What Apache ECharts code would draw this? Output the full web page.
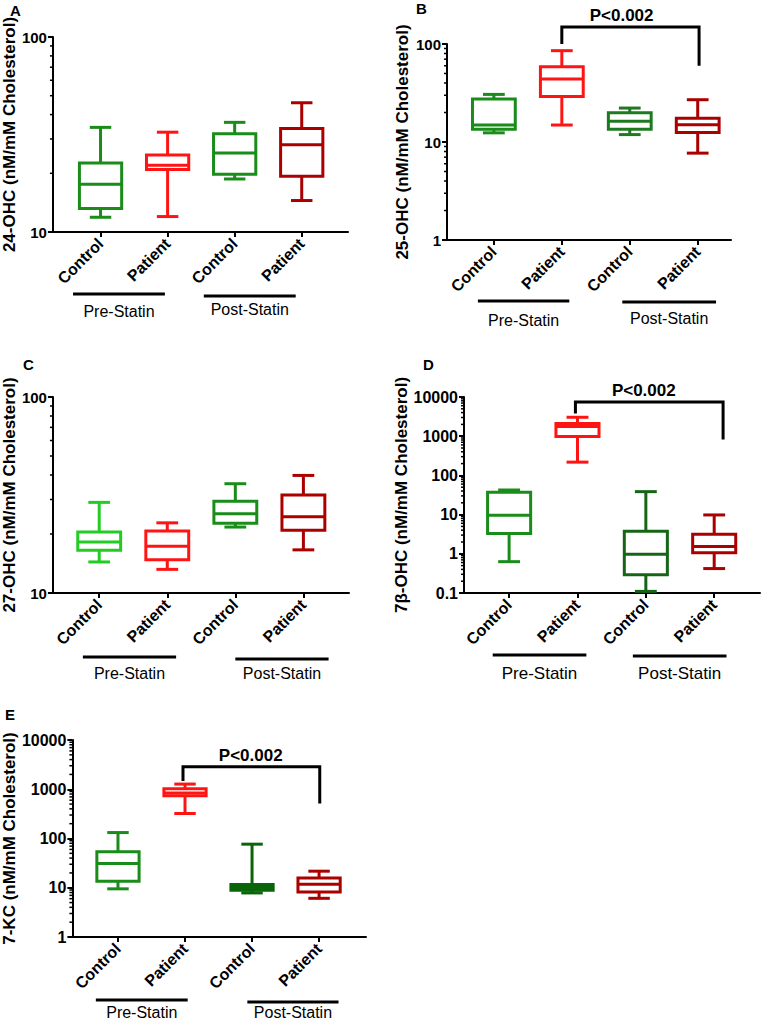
<!DOCTYPE html>
<html>
<head>
<meta charset="utf-8">
<script src="https://cdn.jsdelivr.net/npm/echarts@6/dist/echarts.min.js"></script>
<style>
html, body { margin: 0; padding: 0; background: #fff; }
#main { width: 762px; height: 1021px; }
</style>
</head>
<body>
<div id="main"></div>
<script>
var categories = ['Control', 'Patient', 'Control', 'Patient'];
var groupNames = ['Pre-Statin', 'Post-Statin'];
var pText = 'P<0.002';

// each box: [min, Q1, median, Q3, max]
var ohc24 = [[11.9, 13.2, 17.6, 22.6, 34.4], [12.0, 20.9, 22.0, 24.8, 32.5], [18.7, 19.8, 25.4, 31.9, 36.5], [14.5, 19.3, 28.0, 33.9, 46.0]];
var ohc25 = [[12.4, 13.5, 14.9, 27.4, 30.6], [14.9, 29.2, 43.9, 58.6, 85.5], [11.9, 13.5, 16.3, 19.9, 22.2], [7.7, 12.5, 15.0, 17.5, 27.0]];
var ohc27 = [[14.4, 16.5, 18.2, 20.5, 29.0], [13.2, 14.8, 17.3, 20.7, 22.8], [21.7, 22.7, 25.4, 29.4, 36.1], [16.6, 20.9, 24.5, 31.6, 39.8]];
var ohc7b = [[0.63, 3.3, 9.6, 37, 42.4], [218, 980, 1760, 2100, 3040], [0.11, 0.29, 0.98, 3.77, 38.5], [0.42, 1.06, 1.53, 3.16, 9.8]];
var kc7 = [[9.5, 13.6, 31, 53.6, 132], [322, 738, 836, 1024, 1274], [7.85, 8.9, 10.1, 11.6, 76.7], [6.1, 8.2, 11.8, 15.8, 21.7]];

// significance brackets: [from, yFrom, to, yTo, yTop, textAt]
var bracket25 = [1, 100, 3.02, 60, 149, 1.88];
var bracket7b = [0.97, 3770, 3.13, 822, 7470, 1.97];
var bracket7kc = [0.97, 1466, 3.01, 515, 2870, 1.98];

// minor ticks of the log axes
var minor10to100 = [20, 30, 40, 50, 60, 70, 80, 90];
var minor1to100 = [2, 3, 4, 5, 6, 7, 8, 9, 20, 30, 40, 50, 60, 70, 80, 90];
var minor01to10000 = [0.2, 0.3, 0.4, 0.5, 0.6, 0.7, 0.8, 0.9, 2, 3, 4, 5, 6, 7, 8, 9,
    20, 30, 40, 50, 60, 70, 80, 90, 200, 300, 400, 500, 600, 700, 800, 900,
    2000, 3000, 4000, 5000, 6000, 7000, 8000, 9000];
var minor1to10000 = [2, 3, 4, 5, 6, 7, 8, 9, 20, 30, 40, 50, 60, 70, 80, 90,
    200, 300, 400, 500, 600, 700, 800, 900, 2000, 3000, 4000, 5000, 6000, 7000, 8000, 9000];

var GREEN = '#1a8c1a', RED = '#ff1414', DARKRED = '#aa0000';
var FONT = '"Liberation Sans", Arial, sans-serif';

var panels = [
    { stats: ohc24, colors: [GREEN, RED, GREEN, DARKRED], yName: '24-OHC (nM/mM Cholesterol)',
      yMin: 10, yMax: 100, minor: minor10to100, bracket: null,
      grid: { left: 50, top: 37, width: 298, height: 195 }, xRange: [-0.71, 3.69],
      nameGap: 28, tickFont: 15, catFont: 16, groupFont: 16,
      groups: [[-0.41, 0.96], [1.54, 2.91]], lineOff: [62, 64], textOff: [79, 77] },
    { stats: ohc25, colors: [GREEN, RED, '#1e7a1e', DARKRED], yName: '25-OHC (nM/mM Cholesterol)',
      yMin: 1, yMax: 100, minor: minor1to100, bracket: bracket25,
      grid: { left: 447, top: 44, width: 284, height: 196 }, xRange: [-0.69, 3.49],
      nameGap: 36, tickFont: 15, catFont: 16, groupFont: 16,
      groups: [[-0.235, 1.11], [1.89, 3.27]], lineOff: [61, 62], textOff: [80, 78] },
    { stats: ohc27, colors: ['#22cc22', RED, GREEN, DARKRED], yName: '27-OHC (nM/mM Cholesterol)',
      yMin: 10, yMax: 100, minor: minor10to100, bracket: null,
      grid: { left: 52, top: 397, width: 297, height: 196 }, xRange: [-0.68, 3.67],
      nameGap: 34, tickFont: 15, catFont: 16, groupFont: 16,
      groups: [[-0.24, 1.13], [2.0, 3.37]], lineOff: [64, 66], textOff: [80, 80] },
    { stats: ohc7b, colors: [GREEN, RED, '#146614', DARKRED], yName: '7β-OHC (nM/mM Cholesterol)',
      yMin: 0.1, yMax: 10000, minor: minor01to10000, bracket: bracket7b,
      grid: { left: 464, top: 397, width: 296, height: 196 }, xRange: [-0.66, 3.67],
      nameGap: 50, tickFont: 16, catFont: 16, groupFont: 17,
      groups: [[-0.24, 1.13], [1.81, 3.18]], lineOff: [62, 63], textOff: [80, 80] },
    { stats: kc7, colors: [GREEN, RED, '#0a640a', DARKRED], yName: '7-KC (nM/mM Cholesterol)',
      yMin: 1, yMax: 10000, minor: minor1to10000, bracket: bracket7kc,
      grid: { left: 68, top: 740, width: 298, height: 197 }, xRange: [-0.68, 3.70],
      nameGap: 51, tickFont: 16, catFont: 16, groupFont: 16,
      groups: [[-0.33, 1.04], [1.93, 3.29]], lineOff: [63, 65], textOff: [75, 75] }
];
var letters = [
    { text: 'A', left: 10, top: 3 },
    { text: 'B', left: 416, top: 1 },
    { text: 'C', left: 23, top: 357 },
    { text: 'D', left: 423, top: 357 },
    { text: 'E', left: 5, top: 707 }
];

function renderBox(params, api) {
    var x = api.value(0);
    var lo = api.coord([x, api.value(1)]);
    var q1 = api.coord([x, api.value(2)]);
    var md = api.coord([x, api.value(3)]);
    var q3 = api.coord([x, api.value(4)]);
    var hi = api.coord([x, api.value(5)]);
    var unit = api.coord([x + 1, api.value(3)])[0] - md[0];
    var bw = unit * 0.63, cw = unit * 0.32;
    var cx = md[0];
    var style = { stroke: api.visual('color'), lineWidth: 3, fill: 'none' };
    return {
        type: 'group',
        children: [
            { type: 'line', shape: { x1: cx, y1: q3[1], x2: cx, y2: hi[1] }, style: style },
            { type: 'line', shape: { x1: cx, y1: q1[1], x2: cx, y2: lo[1] }, style: style },
            { type: 'line', shape: { x1: cx - cw / 2, y1: hi[1], x2: cx + cw / 2, y2: hi[1] }, style: style },
            { type: 'line', shape: { x1: cx - cw / 2, y1: lo[1], x2: cx + cw / 2, y2: lo[1] }, style: style },
            { type: 'rect', shape: { x: cx - bw / 2, y: q3[1], width: bw, height: q1[1] - q3[1] }, style: style },
            { type: 'line', shape: { x1: cx - bw / 2, y1: md[1], x2: cx + bw / 2, y2: md[1] }, style: style }
        ]
    };
}

function renderMinor(params, api) {
    var p = api.coord([api.value(0), api.value(1)]);
    return { type: 'line', shape: { x1: p[0] - 3, y1: p[1], x2: p[0], y2: p[1] },
             style: { stroke: '#000', lineWidth: 1.5 } };
}

function renderBracket(params, api) {
    var a = api.coord([api.value(0), api.value(1)]);
    var b = api.coord([api.value(2), api.value(3)]);
    var top = api.coord([api.value(0), api.value(4)])[1];
    var tx = api.coord([api.value(5), api.value(4)])[0];
    return {
        type: 'group',
        children: [
            { type: 'polyline', shape: { points: [[a[0], a[1]], [a[0], top], [b[0], top], [b[0], b[1]]] },
              style: { stroke: '#000', lineWidth: 3, fill: 'none' } },
            { type: 'text', x: tx, y: top - 3,
              style: { text: pText, textAlign: 'center', textVerticalAlign: 'bottom',
                       font: 'bold 17px ' + FONT, fill: '#000' } }
        ]
    };
}

function groupRenderer(p) {
    return function (params, api) {
        var cs = params.coordSys;
        var i = api.value(2);
        var x1 = api.coord([api.value(0), p.yMin])[0];
        var x2 = api.coord([api.value(1), p.yMin])[0];
        var base = cs.y + cs.height;
        return {
            type: 'group',
            children: [
                { type: 'line', shape: { x1: x1, y1: base + p.lineOff[i], x2: x2, y2: base + p.lineOff[i] },
                  style: { stroke: '#000', lineWidth: 3 } },
                { type: 'text', x: (x1 + x2) / 2, y: base + p.textOff[i],
                  style: { text: groupNames[i], textAlign: 'center', textVerticalAlign: 'middle',
                           font: p.groupFont + 'px ' + FONT, fill: '#000' } }
            ]
        };
    };
}

var option = {
    animation: false,
    backgroundColor: '#fff',
    grid: [], xAxis: [], yAxis: [], series: [],
    graphic: letters.map(function (l) {
        return { type: 'text', left: l.left, top: l.top,
                 style: { text: l.text, font: 'bold 15px ' + FONT, fill: '#000' } };
    })
};

panels.forEach(function (p, k) {
    option.grid.push(p.grid);
    option.xAxis.push({
        gridIndex: k, type: 'value', min: p.xRange[0], max: p.xRange[1],
        axisLine: { show: true, onZero: false, lineStyle: { color: '#000', width: 2 } },
        axisTick: { show: true, customValues: [0, 1, 2, 3], length: 5, lineStyle: { color: '#000', width: 2 } },
        axisLabel: {
            customValues: [0, 1, 2, 3], rotate: 45, margin: 9,
            color: '#000', fontWeight: 'bold', fontSize: p.catFont, fontFamily: FONT,
            formatter: function (v) { return categories[Math.round(v)]; }
        },
        splitLine: { show: false }
    });
    option.yAxis.push({
        gridIndex: k, type: 'log', logBase: 10, min: p.yMin, max: p.yMax,
        name: p.yName, nameLocation: 'middle', nameGap: p.nameGap, nameRotate: 90,
        nameTextStyle: { color: '#000', fontWeight: 'bold', fontSize: 17, fontFamily: FONT },
        axisLine: { show: true, onZero: false, lineStyle: { color: '#000', width: 2 } },
        axisTick: { show: true, length: 5, lineStyle: { color: '#000', width: 2 } },
        axisLabel: {
            color: '#000', fontWeight: 'bold', fontSize: p.tickFont, fontFamily: FONT, margin: 6,
            formatter: function (v) { return String(v); }
        },
        splitLine: { show: false }
    });
    option.series.push({
        type: 'custom', xAxisIndex: k, yAxisIndex: k, silent: true,
        encode: { x: 0, y: 1 },
        data: p.minor.map(function (v) { return [p.xRange[0], v]; }),
        renderItem: renderMinor
    });
    option.series.push({
        type: 'custom', xAxisIndex: k, yAxisIndex: k, silent: true,
        encode: { x: 0, y: [1, 2, 3, 4, 5] },
        data: p.stats.map(function (s, i) {
            return { value: [i].concat(s), itemStyle: { color: p.colors[i] } };
        }),
        renderItem: renderBox
    });
    option.series.push({
        type: 'custom', xAxisIndex: k, yAxisIndex: k, silent: true,
        encode: { x: [0, 1] },
        data: p.groups.map(function (g, i) { return [g[0], g[1], i]; }),
        renderItem: groupRenderer(p)
    });
    if (p.bracket) {
        option.series.push({
            type: 'custom', xAxisIndex: k, yAxisIndex: k, silent: true,
            encode: { x: [0, 2], y: [1, 3, 4] },
            data: [p.bracket],
            renderItem: renderBracket
        });
    }
});

var chart = echarts.init(document.getElementById('main'), null, { renderer: 'svg' });
chart.setOption(option);
</script>
</body>
</html>
